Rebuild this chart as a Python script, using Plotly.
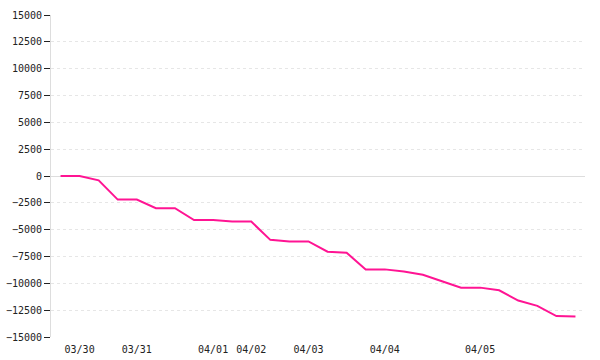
import plotly.graph_objects as go

values = [0, 0, -400, -2200, -2200, -3000, -3000, -4100, -4100, -4250,
          -4250, -5950, -6100, -6100, -7050, -7150, -8700, -8700, -8900, -9200,
          -9800, -10400, -10400, -10650, -11600, -12100, -13050, -13100]
points = list(range(len(values)))
tick_positions = [1, 4, 8, 10, 13, 17, 22]
tick_labels = ["03/30", "03/31", "04/01", "04/02", "04/03", "04/04", "04/05"]
y_ticks = list(range(-15000, 15001, 2500))

fig = go.Figure()
fig.add_trace(go.Scatter(x=points, y=values, mode="lines",
                         line=dict(color="#ff1493", width=2), hoverinfo="y"))

font = dict(family="DejaVu Sans Mono", size=10, color="#222")
fig.update_layout(
    width=600, height=360,
    margin=dict(l=51, r=15, t=15, b=23),
    plot_bgcolor="white", paper_bgcolor="white",
    showlegend=False, font=font,
    xaxis=dict(range=[-0.5, len(values) - 0.5], tickmode="array",
               tickvals=tick_positions, ticktext=tick_labels,
               showgrid=False, zeroline=False, showline=False,
               ticks="outside", ticklen=3, tickcolor="rgba(0,0,0,0)",
               tickfont=font, automargin=False),
    yaxis=dict(range=[-15000, 15000], tickmode="array", tickvals=y_ticks,
               ticktext=[str(v).replace("-", "\u2212") for v in y_ticks],
               showgrid=True, gridcolor="#e6e6e6", griddash="dot",
               zeroline=True, zerolinecolor="#dddddd", zerolinewidth=1,
               showline=True, linecolor="#dddddd", linewidth=1,
               ticks="outside", ticklen=6, tickcolor="#222", tickwidth=1,
               tickfont=font, automargin=False),
)
fig.write_html("out.html")
